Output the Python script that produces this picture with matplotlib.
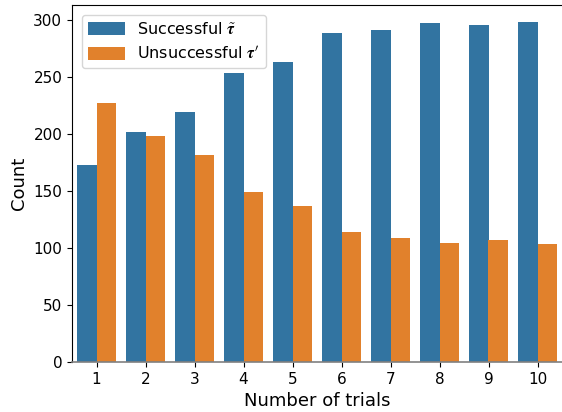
import matplotlib
matplotlib.use("Agg")
import matplotlib.pyplot as plt
import seaborn as sns
import pandas as pd

trials = [1, 2, 3, 4, 5, 6, 7, 8, 9, 10]
successful = [173, 202, 219, 253, 263, 288, 291, 297, 295, 298]
unsuccessful = [227, 198, 181, 149, 137, 114, 109, 104, 107, 103]
labels = [r"Successful $\tilde{\boldsymbol{\tau}}$", r"Unsuccessful $\boldsymbol{\tau}'$"]

plt.rcParams['font.family'] = ['DejaVu Sans']
plt.rcParams['mathtext.fontset'] = 'cm'

df = pd.DataFrame({
    "trials": trials * 2,
    "count": successful + unsuccessful,
    "kind": [labels[0]] * len(trials) + [labels[1]] * len(trials),
})

fig = plt.figure(figsize=(5.62, 4.12), dpi=100)
ax = fig.add_axes([72/562, 1 - 362/412, 1 - 72/562, (362 - 5)/412])
sns.barplot(data=df, x="trials", y="count", hue="kind", ax=ax,
            palette=["#3274a1", "#e1812c"], saturation=1, edgecolor="none")
ax.spines['right'].set_visible(False)
ax.spines['bottom'].set_color("#808080")
ax.spines['bottom'].set_linewidth(1.2)
ax.set_xlabel("Number of trials", fontsize=13)
ax.set_ylabel("Count", fontsize=13)
ax.tick_params(labelsize=11)
ax.set_yticks([0, 50, 100, 150, 200, 250, 300])
leg = ax.legend(loc="upper left", fontsize=11.5, title=None, handlelength=2.3,
                handleheight=0.9, borderaxespad=0.6)
fig.savefig("out.png", dpi=100)
